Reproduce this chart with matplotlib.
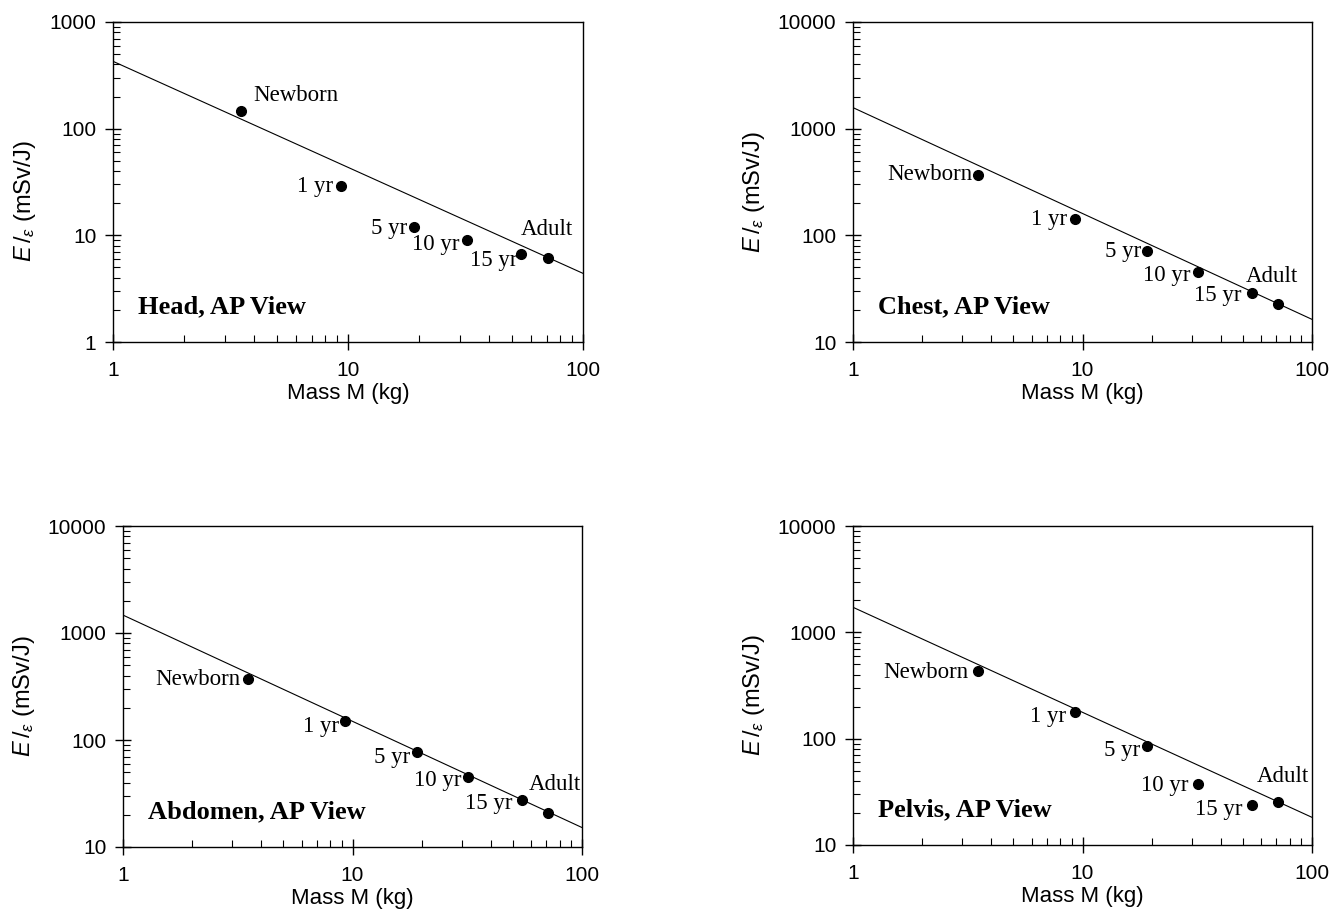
import numpy as np
import matplotlib
matplotlib.use("Agg")
import matplotlib.pyplot as plt
from matplotlib.ticker import LogLocator, NullFormatter, FuncFormatter

plt.rcParams['font.family'] = ['Liberation Sans', 'DejaVu Sans']
plt.rcParams['mathtext.fontset'] = 'custom'
plt.rcParams['mathtext.rm'] = 'Liberation Sans'
plt.rcParams['mathtext.it'] = 'Liberation Sans:italic'

# Phantom ages and masses (kg), same for every panel
ages = ['Newborn', '1 yr', '5 yr', '10 yr', '15 yr', 'Adult']
mass = [3.5, 9.3, 19.1, 32, 54.5, 71]

# E/epsilon (mSv/J) per exam
head = [146, 29.2, 11.9, 9.1, 6.7, 6.1]
chest = [371, 143, 72, 45.3, 28.8, 22.7]
abdomen = [373, 151, 78, 45.2, 27.7, 20.9]
pelvis = [435, 178, 86, 37.5, 23.8, 25.2]

# fitted power-law line, value at M=1 and M=100
fit_x = [1, 100]
head_fit = [428, 4.4]
chest_fit = [1575, 16.3]
abdomen_fit = [1470, 15.2]
pelvis_fit = [1720, 18.2]

titles = ['Head, AP View', 'Chest, AP View', 'Abdomen, AP View', 'Pelvis, AP View']

# label offsets (pixels) and alignment for each point label, per panel
head_lab = [(12, 16, 'left'), (-7, -1, 'right'), (-7, -1, 'right'),
            (-7, -5, 'right'), (-4, -7, 'right'), (-1, 29, 'center')]
chest_lab = [(-5, 0, 'right'), (-8, -1, 'right'), (-6, -1, 'right'),
             (-8, -3, 'right'), (-10, -3, 'right'), (-6, 28, 'center')]
abd_lab = [(-7, -1, 'right'), (-6, -6, 'right'), (-7, -6, 'right'),
           (-7, -4, 'right'), (-9, -4, 'right'), (7, 28, 'center')]
pel_lab = [(-9, -2, 'right'), (-9, -4, 'right'), (-7, -5, 'right'),
           (-10, -2, 'right'), (-9, -5, 'right'), (5, 26, 'center')]

panels = [
    (head, head_fit, (1, 1000), head_lab, [113, 22, 583, 342], 0.44),
    (chest, chest_fit, (10, 10000), chest_lab, [853, 22, 1312, 342], 0.47),
    (abdomen, abdomen_fit, (10, 10000), abd_lab, [123, 526, 582, 847], 0.47),
    (pelvis, pelvis_fit, (10, 10000), pel_lab, [853, 526, 1312, 845], 0.47),
]

W, H = 1343, 923
fig = plt.figure(figsize=(W / 100, H / 100), dpi=100)

serif = ['Liberation Serif', 'DejaVu Serif']

for (vals, fit, ylim, labs, box, ylab_y), title in zip(panels, titles):
    x0, y0, x1, y1 = box
    ax = fig.add_axes([x0 / W, 1 - y1 / H, (x1 - x0) / W, (y1 - y0) / H])
    ax.set_xscale('log')
    ax.set_yscale('log')
    ax.set_xlim(1, 100)
    ax.set_ylim(*ylim)

    ax.plot(fit_x, fit, color='black', lw=0.8)
    ax.plot(mass, vals, 'o', color='black', ms=7, zorder=3)

    for m, v, name, (dx, dy, ha) in zip(mass, vals, ages, labs):
        ax.annotate(name, (m, v), xytext=(dx, dy), textcoords='offset pixels',
                    ha=ha, va='center', fontsize=16.5, family=serif)

    ax.text(25 / (x1 - x0), 0.11, title, transform=ax.transAxes, fontsize=19,
            fontweight='bold', family=serif, ha='left', va='center')

    fmt = FuncFormatter(lambda v, p: '%g' % v)
    ax.xaxis.set_major_formatter(fmt)
    ax.yaxis.set_major_formatter(fmt)
    ax.xaxis.set_minor_formatter(NullFormatter())
    ax.yaxis.set_minor_formatter(NullFormatter())
    ax.yaxis.set_minor_locator(LogLocator(base=10, subs=np.arange(2, 10)))
    ax.tick_params(which='major', direction='inout', length=12, width=1,
                   labelsize=15, pad=6)
    ax.tick_params(which='major', axis='x', pad=8)
    ax.tick_params(which='minor', direction='in', length=5, width=0.8)
    for s in ax.spines.values():
        s.set_linewidth(1)

    ax.set_xlabel('Mass M (kg)', fontsize=16, labelpad=2)
    ax.set_ylabel(r'$E\,/_{\varepsilon}$ (mSv/J)', fontsize=17, labelpad=8)
    ax.yaxis.label.set_y(ylab_y)

fig.savefig('out.png', dpi=100)
